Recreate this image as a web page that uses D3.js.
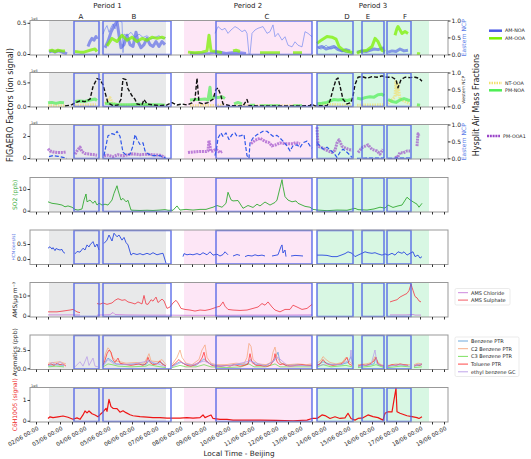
<!DOCTYPE html>
<html><head><meta charset="utf-8">
<script src="https://cdn.jsdelivr.net/npm/d3@7"></script>
<style>body{margin:0;background:#fff}text{font-family:"DejaVu Sans",sans-serif}</style>
</head><body><svg id="c" width="531" height="459"></svg>
<script>
// time unit: hours since 02/06 00:00 (local time, Beijing)
const dayLabels = ["02/06 00:00","03/06 00:00","04/06 00:00","05/06 00:00","06/06 00:00","07/06 00:00","08/06 00:00","09/06 00:00","10/06 00:00","11/06 00:00","12/06 00:00","13/06 00:00","14/06 00:00","15/06 00:00","16/06 00:00","17/06 00:00","18/06 00:00","19/06 00:00"];
const periods = [{name:"Period 1", t0:13, t1:130, color:"#e8e9ea"},{name:"Period 2", t0:148, t1:276, color:"#fde6f6"},{name:"Period 3", t0:281, t1:393, color:"#d8f7e3"}];
const boxes = [{name:"A",t0:38,t1:63,lt:45},{name:"B",t0:67,t1:135,lt:98},{name:"C",t0:180,t1:276,lt:231},{name:"D",t0:281,t1:317,lt:311},{name:"E",t0:326,t1:348,lt:332},{name:"F",t0:351,t1:375,lt:369}];

// Panel 1
const amNOA = [[13,0.03],[16,0.05],[19,0.03],[22,0.05],[25,0.04],[28,0.02],[31,0.0],null,[52,0.12],[54,0.2],[56,0.25],[58,0.22],[60,0.28],[61,0.24],null,[69,0.1],[72,0.2],[75,0.35],[78,0.45],[81,0.52],[83,0.3],[85,0.1],[88,0.15],[91,0.3],[94,0.15],[97,0.12],[100,0.35],[102,0.2],[105,0.1],[108,0.15],[111,0.25],[114,0.15],[117,0.12],[120,0.2],[123,0.12],[126,0.2],[129,0.15],null,[154,0.01],[164,0.0],[174,0.01],[178,0.02],[184,0.03],[190,0.01],[196,0.02],[204,0.02],[210,0.01],null,[282,0.1],[286,0.12],[290,0.08],[294,0.1],[298,0.12],[302,0.07],[306,0.05],[310,0.07],[314,0.05],null,[321,0.03],[326,0.05],[330,0.04],[334,0.06],[338,0.08],[342,0.07],[346,0.09],[348,0.1],null,[352,0.03],[356,0.05],[360,0.04],[364,0.08],[368,0.05],[372,0.06]];
const amOOA = [[13,0.05],[16,0.06],[19,0.04],[22,0.06],[26,0.05],[29,0.05],null,[39,0.04],[44,0.03],[48,0.03],[52,0.05],[56,0.07],[59,0.08],[61,0.04],null,[71,0.13],[76,0.25],[81,0.2],[86,0.3],[91,0.22],[96,0.27],[101,0.2],[106,0.25],[111,0.22],[116,0.27],[121,0.25],[126,0.27],[129,0.25],null,[152,0.03],[159,0.02],[166,0.03],[171,0.05],[173,0.3],[175,0.05],[180,0.04],[186,0.02],null,[197,0.05],[200,0.06],[204,0.04],null,[224,0.02],[244,0.02],null,[257,0.02],[266,0.02],null,[281,0.17],[286,0.23],[291,0.28],[296,0.27],[300,0.24],[303,0.12],[307,0.065],[312,0.04],[317,0.02],null,[321,0.01],[324,0.04],[331,0.06],[336,0.12],[339,0.25],[342,0.2],[346,0.06],[349,0.04],null,[359,0.3],[361,0.41],[362,0.44],[366,0.33],[369,0.36],[372,0.33],null,[381,0.01],[384,0.0]];
const eastNCP1 = [[67,0.6],[69,0.75],[71,0.85],[73,0.65],[75,0.8],[77,0.9],[79,0.75],[81,0.95],[83,1.0],[86,0.95],[87,0.05],[88,0.6],[91,0.55],[95,0.65],[99,0.5],[103,0.6],[107,0.5],[111,0.55],[115,0.45],[119,0.5],[123,0.55],[127,0.45],[130,0.5],null,[179,0.62],[182,0.82],[186,0.72],[189,0.77],[192,0.62],[195,0.72],[199,0.82],[202,0.77],[206,0.67],[209,0.72],[211,0.62],[213,0.0],[214,0.0],[216,0.62],[219,0.72],[222,0.77],[227,0.82],[231,0.62],[234,0.67],[237,0.87],[239,0.52],[242,0.62],[246,0.42],[249,0.52],[252,0.27],[256,0.22],[259,0.37],[262,0.27],[266,0.22],[269,0.67],[272,0.62],[276,0.52],null,[281,0.22],[285,0.15],[290,0.27],[295,0.15],[300,0.22],[305,0.1],[310,0.05],[315,0.06]];

// Panel 2
const westNCP = [[29,0.01],[33,0.03],[36,0.05],[39,0.1],[44,0.16],[49,0.14],[54,0.21],[57,0.58],[61,0.82],[64,0.79],[67,0.64],[70,0.31],[72,0.1],[77,0.02],[82,0.04],[85,0.21],[87,0.82],[90,0.79],[92,0.52],[96,0.31],[99,0.21],[101,0.07],[106,0.04],[108,0.2],[111,0.07],[117,0.04],[124,0.02],[131,0.04],[136,0.11],[141,0.04],[146,0.07],[151,0.04],[156,0.1],[159,0.21],[161,0.83],[163,0.11],[167,0.07],[172,0.11],[177,0.21],[180,0.5],[182,0.54],[185,0.31],[187,0.07],[194,0.02],[207,0.01],[211,0.2],[213,0.02],[224,0.01],[244,0.01],[264,0.01],[274,0.02],[276,0.07],[279,0.01],[286,0.02],[291,0.02],[294,0.16],[297,0.5],[300,0.79],[302,0.84],[304,0.6],[307,0.21],[311,0.07],[315,0.11],[317,0.31],[319,0.64],[322,0.86],[326,0.88],[331,0.83],[336,0.88],[341,0.86],[346,0.9],[351,0.86],[356,0.86],[360,0.79],[362,0.55],[365,0.79],[369,0.86],[374,0.85],[379,0.86],[383,0.83],[386,0.74]];
const pmNOA = [[12,0.07],[16,0.08],[20,0.06],[24,0.08],[28,0.07],null,[39,0.1],[44,0.11],[49,0.1],[54,0.13],[59,0.15],[61,0.12],null,[69,0.06],[74,0.05],[79,0.04],[84,0.03],[94,0.03],[104,0.04],[114,0.03],[124,0.03],[129,0.02],null,[154,0.13],[159,0.14],[164,0.14],[169,0.15],[172,0.13],[174,0.4],[175,0.15],[179,0.2],[182,0.18],[186,0.2],[189,0.16],null,[198,0.05],[202,0.08],[206,0.05],null,[214,0.02],[219,0.02],null,[224,0.01],[244,0.01],null,[257,0.01],[266,0.01],null,[281,0.05],[286,0.06],[291,0.08],[295,0.12],[298,0.14],[302,0.13],[306,0.14],[311,0.12],[315,0.14],null,[321,0.17],[325,0.15],[329,0.18],[334,0.2],[338,0.19],[342,0.24],[346,0.25],[348,0.22],null,[352,0.14],[356,0.1],[360,0.08],[364,0.13],[368,0.16],[372,0.13],[374,0.12],null,[381,0.03],[384,0.02]];
const ntOOA = [[12,0.01],[29,0.01],null,[39,0.02],[60,0.03],null,[69,0.05],[72,0.12],[74,0.18],[76,0.08],[80,0.03],[90,0.02],[110,0.02],[129,0.01],null,[154,0.01],[189,0.02],null,[198,0.01],[266,0.01],null,[281,0.03],[290,0.05],[300,0.03],[315,0.02],null,[321,0.02],[348,0.03],null,[352,0.05],[359,0.2],[360,0.52],[361,0.25],[362,0.45],[364,0.15],[374,0.05],null,[381,0.02],[384,0.01]];

// Panel 3
const pmOOA1 = [[12,0.84],[14,0.64],[17,0.55],[22,0.5],[27,0.5],[30,0.55],null,[39,0.35],[41,0.64],[44,1.0],[46,0.58],[49,0.4],[54,0.35],[61,0.26],null,[68,0.2],[72,0.26],[77,0.12],[82,0.3],[87,0.2],[92,0.3],[97,0.38],[104,0.3],[111,0.35],[117,0.3],[124,0.25],[129,0.06],null,[152,0.5],[157,0.55],[164,0.6],[170,0.58],[172,0.65],[173,1.6],[175,0.6],[177,0.64],[180,0.8],[184,0.5],[186,0.6],null,[215,1.3],[219,1.6],[224,1.8],[229,1.5],[233,1.4],[236,1.1],[240,1.2],[244,1.37],[250,1.3],[257,1.3],[260,1.4],[264,1.3],null,[281,2.8],[282,1.07],[286,0.93],[289,0.78],[292,0.64],[296,0.5],[299,0.7],[301,1.37],[303,1.65],[306,1.07],[309,0.93],[312,0.8],[316,0.7],null,[322,0.5],[326,0.93],[329,1.07],[332,1.2],[336,0.78],[341,0.64],[344,0.35],[347,0.78],null,[360,0.2],[361,-0.09],[364,0.5],[367,0.45],[371,0.64],[374,0.64],null,[381,1.07],[382,2.2],[383,2.0]];
const eastNCP3 = [[13,0.05],[17,0.08],[22,0.06],[27,0.03],[31,0.0],null,[68,0.08],[70,0.37],[72,0.67],[76,0.73],[79,0.7],[81,0.8],[84,0.65],[87,0.18],[90,0.1],[94,0.12],[97,0.37],[99,0.7],[101,0.56],[104,0.41],[107,0.46],[109,0.22],[112,0.13],[117,0.08],[124,0.08],[130,0.0],null,[179,0.08],[181,0.37],[182,0.6],[185,0.75],[187,0.65],[190,0.75],[193,0.56],[196,0.7],[199,0.75],[201,0.65],[205,0.67],[208,0.7],[211,0.08],[213,0.0],[214,0.46],[217,0.6],[221,0.7],[224,0.75],[227,0.8],[231,0.8],[234,0.72],[237,0.65],[241,0.68],[244,0.6],[247,0.51],[251,0.37],[254,0.22],[257,0.37],[261,0.4],[264,0.32],[267,0.46],[271,0.51],[274,0.37],[276,0.3],null,[281,0.46],[284,0.37],[287,0.27],[291,0.33],[294,0.25],[297,0.18],[301,0.03],[304,0.18],[307,0.27],[311,0.18],[316,0.03],null,[321,0.0],[348,0.01],null,[352,0.0],[375,0.01]];

// Panel 4
const so2 = [[12,4.1],[16,3.4],[21,3.1],[26,2.6],[29,1.8],[32,2.2],[36,1.6],[39,0.6],[42,0.3],[46,0.8],[48,4.9],[50,7.7],[51,4.1],[54,4.9],[57,3.4],[59,4.5],[61,2.6],[63,3.5],[66,2.6],[69,3.0],[72,2.6],[76,4.9],[78,8.0],[81,11.5],[82,9.5],[85,4.9],[87,5.7],[90,4.1],[92,4.8],[95,0.3],[97,0.2],[104,0.1],[111,0.2],[117,0.1],[124,0.3],[129,0.5],[132,0.2],[137,0.2],[141,2.2],[144,0.3],[150,0.6],[157,0.3],[164,0.6],[170,0.6],[174,1.2],[177,1.6],[181,2.4],[186,1.6],[190,3.4],[192,8.5],[195,5.0],[197,4.5],[202,4.7],[207,1.1],[212,2.4],[217,1.5],[221,3.0],[224,2.2],[229,4.0],[234,2.6],[239,3.8],[241,4.9],[246,14.3],[247,11.1],[249,6.5],[252,4.9],[256,4.1],[260,4.5],[262,3.4],[266,2.6],[269,2.0],[274,1.6],[277,0.6],[282,0.3],[291,0.0],[301,0.3],[311,0.2],[319,1.1],[322,0.5],[331,0.3],[338,0.8],[344,1.6],[349,1.2],[352,2.6],[357,1.5],[362,2.2],[366,2.6],[371,6.2],[374,5.0],[377,4.1],[381,3.0],[383,1.6],[386,3.4]];
// Panel 5
const hcn = [[12,0.36],[14,0.41],[16,0.33],[17,0.38],[19,0.28],[20,0.35],[22,0.32],[24,0.3],[26,0.32],[27,0.24],[29,0.19],null,[39,0.17],[41,0.25],[44,0.23],[47,0.36],[49,0.3],[51,0.47],[53,0.4],[54,0.47],[57,0.58],[59,0.4],[61,0.5],[63,0.3],null,[68,0.52],[71,0.63],[73,0.8],[76,0.6],[78,0.86],[81,0.74],[83,0.8],[86,0.63],[88,0.72],[90,0.55],[92,0.47],[95,0.13],[97,0.19],[101,0.15],[104,0.18],[107,0.14],[111,0.19],[114,0.15],[117,0.21],[121,0.14],[124,0.17],[127,0.19],[130,-0.14],null,[147,0.08],[148,0.18],[151,0.14],[154,0.16],[157,0.14],[161,0.18],[164,0.14],[167,0.21],[171,0.14],[174,0.24],[177,0.13],[181,0.16],[184,0.1],[187,0.15],[189,0.24],[192,0.14],null,[197,0.1],[201,0.15],[204,0.12],null,[209,0.08],[212,0.12],[216,0.1],[219,0.14],[222,0.11],[226,0.13],[229,0.1],null,[236,0.1],[239,0.12],[242,0.14],[245,0.41],[246,0.47],[247,0.2],[249,0.3],[250,0.08],null,[255,0.1],[259,0.12],[264,0.11],[267,0.1],null,[281,0.13],[286,0.13],[291,0.12],[296,0.08],[301,0.08],[306,0.14],[309,0.18],[312,0.24],[316,0.19],[319,0.08],[322,0.13],[326,0.19],[329,0.24],[332,0.21],[336,0.19],[339,0.21],[342,0.17],[346,0.13],[349,0.17],[352,0.13],[356,0.19],[359,0.13],[362,0.24],[366,0.19],[368,0.24],[371,0.13],[374,0.19],[377,0.24],[379,0.08],[382,0.13],[384,0.03],[386,0.08]];
// Panel 6
const amsSulphate = [[12,1.9],[21,1.9],[27,2.3],[34,2.8],[37,3.1],[39,2.5],[41,1.9],[44,1.5],null,[61,6.0],[64,5.7],[67,6.3],[71,5.6],[76,6.3],[79,7.6],[82,8.4],[86,7.6],[89,7.9],[92,6.8],[96,6.3],[99,5.8],[102,6.8],[106,5.8],[108,10.0],[110,5.8],[112,5.6],[115,7.9],[117,7.2],[120,9.2],[122,6.5],[126,8.2],[128,7.3],[131,3.6],[134,4.3],[137,6.3],[140,7.6],[142,6.3],[145,3.6],[149,3.1],[154,2.8],[159,2.3],[164,2.8],[169,2.6],[174,3.1],[177,3.6],[181,4.3],[184,4.7],[187,6.8],[189,4.7],[192,3.1],[197,2.8],[204,2.6],[211,2.8],[217,3.6],[222,4.3],[226,6.0],[229,5.2],[232,6.8],[236,4.3],[239,2.8],[244,1.9],[249,3.1],[254,3.1],[257,5.2],[261,4.3],[266,3.1],[271,3.6],[276,5.6],null,[354,6.8],[357,7.3],[361,7.9],[364,9.2],[367,10.0],[371,11.0],[373,12.4],[375,15.6],[376,14.0],[377,12.5],[379,9.5],[381,8.8],[383,7.3],[385,6.8]];
const amsChloride = [[12,0.4],[44,0.4],null,[61,0.3],[74,0.5],[77,1.6],[79,0.6],[90,0.4],[110,0.3],[130,0.3],[150,0.2],[180,0.2],[210,0.3],[240,0.3],[276,0.4],null,[354,0.4],[370,0.4],[377,0.6],[379,0.3],[385,0.3]];
// Panel 7
const toluene = [[12,0.5],[15,0.6],[18,0.4],[21,0.7],[24,0.5],[27,0.6],[30,0.3],null,[67,0.5],[69,1.1],[71,2.0],[73,2.5],[75,2.2],[77,1.2],[79,0.8],[82,1.4],[84,0.7],[87,0.6],[91,0.5],[95,0.4],[99,0.5],[103,0.6],[107,0.4],[110,0.7],[112,1.5],[114,0.8],[117,0.5],[121,0.6],[124,1.0],[126,0.6],[130,0.3],null,[136,0.3],[140,0.8],[143,1.2],[145,0.9],[148,0.6],[151,0.4],[155,0.3],[159,0.5],[163,0.8],[166,1.4],[168,2.2],[170,1.0],[173,0.7],[176,0.4],[180,0.3],[185,0.3],[190,0.4],[194,0.3],[198,0.5],[201,0.4],[204,0.3],[208,0.4],[212,0.6],[214,2.0],[216,0.8],[220,0.4],[224,0.4],[228,0.3],[232,0.3],[235,0.5],[238,1.3],[239,2.0],[241,0.9],[244,0.5],[247,0.6],[250,0.4],[254,0.3],[260,0.4],[266,0.5],[270,0.4],[276,0.4],null,[281,0.4],[284,0.6],[287,1.2],[290,0.7],[293,0.5],[297,0.4],[301,0.5],[305,0.6],[308,0.9],[311,1.5],[313,0.6],[316,0.4],null,[322,0.3],[326,0.5],[330,0.4],[334,0.6],[338,1.0],[340,1.5],[342,0.6],[345,0.4],[348,0.3],null,[352,0.3],[356,0.5],[360,0.4],[364,0.6],[368,0.5],[372,0.4],null,[378,0.3],[381,0.5],[384,0.4],[386,0.6]];
const c2Benzene = [[12,0.7],[18,0.8],[24,0.9],[30,0.6],null,[67,0.8],[70,2.2],[72,2.8],[74,2.5],[76,1.6],[80,1.0],[84,0.9],[90,0.7],[100,0.8],[108,0.7],[111,1.4],[113,2.0],[115,1.0],[122,0.9],[126,1.2],[130,0.5],null,[136,0.5],[141,1.5],[144,2.5],[146,1.5],[150,0.7],[156,0.5],[163,1.2],[166,2.5],[169,3.2],[171,1.5],[175,0.7],[180,0.5],[190,0.5],[200,0.7],[208,0.6],[211,1.5],[213,3.4],[215,3.0],[217,1.2],[222,0.6],[230,0.5],[235,0.8],[237,2.2],[239,2.9],[241,1.5],[245,0.7],[252,0.5],[262,0.6],[270,0.5],[276,0.6],null,[281,0.7],[285,1.1],[287,1.6],[290,1.2],[294,0.8],[300,0.6],[306,0.8],[310,1.5],[313,1.0],[316,0.6],null,[322,0.5],[330,0.6],[336,0.8],[339,1.6],[341,1.0],[345,0.5],[348,0.4],null,[352,0.4],[360,0.6],[368,0.5],[374,0.5],null,[378,0.5],[382,0.7],[386,0.6]];
const benzene = [[12,0.4],[20,0.5],[28,0.4],null,[67,0.4],[72,1.4],[76,1.0],[80,0.6],[90,0.5],[100,0.6],[110,0.5],[113,1.1],[118,0.6],[125,0.8],[130,0.3],null,[136,0.3],[144,0.9],[150,0.5],[160,0.4],[168,1.3],[175,0.5],[185,0.3],[200,0.5],[212,0.6],[214,1.2],[220,0.5],[230,0.4],[238,1.0],[242,2.2],[244,0.8],[250,0.4],[260,0.5],[270,0.4],[276,0.4],null,[281,0.4],[287,0.9],[295,0.5],[305,0.5],[312,0.8],[315,1.6],[317,0.5],null,[322,0.3],[330,0.4],[338,0.6],[340,1.5],[342,0.5],[348,0.3],null,[352,0.3],[362,0.5],[372,0.4],null,[378,0.3],[386,0.5]];
const c3Benzene = [[12,0.2],[20,0.3],[28,0.2],null,[67,0.2],[72,0.6],[76,0.5],[82,0.3],[95,0.2],[110,0.3],[113,0.5],[120,0.3],[130,0.1],null,[136,0.1],[144,0.4],[150,0.2],[160,0.2],[168,0.5],[175,0.2],[190,0.1],[205,0.2],[213,0.6],[218,0.2],[230,0.2],[239,0.6],[244,0.2],[260,0.2],[276,0.2],null,[281,0.2],[287,0.5],[295,0.2],[310,0.4],[316,0.2],null,[322,0.1],[335,0.3],[340,0.5],[348,0.1],null,[352,0.1],[365,0.3],[374,0.2],null,[378,0.1],[386,0.2]];
const ethylBenzeneGC = [[12,0.3],[16,0.8],[20,0.5],[24,0.9],[28,0.4],null,[39,0.2],[44,0.9],[47,0.3],[51,1.6],[53,0.4],[57,1.4],[59,0.3],[62,0.2],null,[67,0.3],[72,1.2],[78,0.6],[86,0.5],[98,0.6],[112,1.0],[124,0.5],[130,0.2],null,[136,0.2],[145,0.8],[155,0.4],[168,1.0],[180,0.3],[195,0.4],[214,1.0],[230,0.3],[242,1.5],[252,0.3],[265,0.4],[276,0.3],null,[281,0.3],[290,0.6],[305,0.5],[314,1.2],[315,2.5],[316,0.6],null,[322,0.3],[335,0.5],[339,2.5],[341,0.6],[348,0.3],null,[352,0.3],[365,0.5],[374,0.3],null,[378,0.4],[386,0.6]];
// Panel 8
const c6h10o5 = [[12,0.11],[14,0.19],[17,0.15],[22,0.19],[27,0.23],[32,0.17],[37,0.07],[41,0.14],[44,0.07],[47,0.28],[49,0.47],[51,0.38],[53,0.47],[56,0.34],[59,0.28],[62,0.19],[65,0.34],[67,0.43],[70,0.6],[71,0.45],[73,1.03],[75,0.68],[77,0.6],[81,0.58],[84,0.41],[87,0.48],[90,0.39],[94,0.29],[97,0.24],[104,0.2],[111,0.17],[117,0.15],[124,0.15],[131,0.13],[138,0.13],[144,0.13],[151,0.15],[157,0.13],[164,0.15],[167,0.28],[169,0.15],[172,0.22],[175,0.28],[177,0.11],[184,0.07],[191,0.07],[197,0.03],[211,0.03],[224,0.03],[240,0.02],[257,0.0],[271,0.03],[276,0.11],[281,0.11],[286,0.28],[289,0.25],[294,0.11],[299,0.19],[304,0.11],[309,0.14],[312,0.36],[315,0.11],[319,0.03],[322,0.11],[327,0.14],[332,0.28],[337,0.2],[342,0.15],[347,0.03],[349,0.36],[352,0.43],[356,0.43],[358,1.0],[360,1.56],[361,0.43],[364,0.36],[371,0.24],[376,0.2],[381,0.15],[383,0.11],[386,0.19]];

const svg = d3.select("#c");
const X0 = 30, X1 = 448;
const x = d3.scaleLinear().domain([-6, 412]).range([X0, X1]);
const H = 34.5;
const panels = [
 {top:20.5, dom:[-0.016,0.537], ticks:[0,0.5], fmt:".1f", right:true, offset:true},
 {top:72.5, dom:[-0.017,0.708], ticks:[0,0.5], fmt:".1f", right:true, offset:true},
 {top:124.5, dom:[-0.09,3.04], ticks:[0,2], fmt:"d", right:true, offset:true},
 {top:177.5, dom:[-0.6,15.3], ticks:[0,10], fmt:"d", label:"SO2 (ppb)", lc:"#33aa33", lfs:6},
 {top:230, dom:[-0.183,0.967], ticks:[0,0.5], fmt:".1f", label:"HCN (ions/s)", lc:"#3355dd", lfs:4.3},
 {top:282.5, dom:[-0.64,16.4], ticks:[0,10], fmt:"d", label:"AMS/\u00b5g m\u207b\u00b3", lc:"#222", lfs:6},
 {top:335, dom:[-0.16,4.55], ticks:[0,2.5], fmt:".1f", label:"Aromatics (ppb)", lc:"#222", lfs:6},
 {top:387.5, dom:[-0.06,1.6], ticks:[0,1], fmt:"d", label:"C6H10O5 (signal)", lc:"#ee2222", lfs:6, offset:true}
];
const defs = svg.append("defs");

panels.forEach((p,i)=>{
  p.y = d3.scaleLinear().domain(p.dom).range([p.top+H, p.top]);
  p.yr = d3.scaleLinear().domain([-0.02,1.0]).range([p.top+H, p.top]);
  defs.append("clipPath").attr("id","cl"+i).append("rect").attr("x",X0).attr("y",p.top).attr("width",X1-X0).attr("height",H);
  const g = svg.append("g");
  p.g = g;
  periods.forEach(s=>{
    g.append("rect").attr("x",x(s.t0)).attr("y",p.top).attr("width",x(s.t1)-x(s.t0)).attr("height",H).attr("fill",s.color);
  });
  p.lines = g.append("g").attr("clip-path",`url(#cl${i})`);
});

function line(p, data, scale, st){
  const gen = d3.line().defined(d=>d!==null).x(d=>x(d[0])).y(d=>scale(d[1]));
  const path = p.lines.append("path").datum(data).attr("d",gen).attr("fill","none")
    .attr("stroke",st.c).attr("stroke-width",st.w||1).attr("stroke-opacity",st.o||1)
    .attr("stroke-linejoin","round");
  if(st.dash) path.attr("stroke-dasharray",st.dash);
}
const P = panels;
line(P[0], eastNCP1, P[0].yr, {c:"#7088f0", w:0.8, o:0.85});
line(P[0], amNOA, P[0].y, {c:"#4a58e6", w:3, o:0.6});
line(P[0], amOOA, P[0].y, {c:"#7cf000", w:3, o:0.75});
line(P[1], ntOOA, P[1].y, {c:"#f2e070", w:3, o:0.7, dash:"1.5,1"});
line(P[1], pmNOA, P[1].y, {c:"#4eee55", w:3, o:0.7});
line(P[1], westNCP, P[1].yr, {c:"#111", w:1.4, dash:"4,2"});
line(P[2], pmOOA1, P[2].y, {c:"#9a45c8", w:3, o:0.65, dash:"2,0.8"});
line(P[2], eastNCP3, P[2].yr, {c:"#3058ea", w:1.2, dash:"4,2"});
line(P[3], so2, P[3].y, {c:"#33aa33", w:0.9});
line(P[4], hcn, P[4].y, {c:"#2a4ae0", w:0.9});
line(P[5], amsChloride, P[5].y, {c:"#c77ada", w:0.9, o:0.9});
line(P[5], amsSulphate, P[5].y, {c:"#f04a55", w:0.9});
line(P[6], benzene, P[6].y, {c:"#5f9fd8", w:0.9, o:0.85});
line(P[6], c2Benzene, P[6].y, {c:"#f6a57c", w:0.9, o:0.85});
line(P[6], c3Benzene, P[6].y, {c:"#6fdc50", w:0.9, o:0.85});
line(P[6], toluene, P[6].y, {c:"#ff3333", w:0.9, o:0.85});
line(P[6], ethylBenzeneGC, P[6].y, {c:"#b89be8", w:0.9, o:0.85});
line(P[7], c6h10o5, P[7].y, {c:"#ee1515", w:1.2});

const hourTicks = d3.range(0, 409, 12);
panels.forEach((p,i)=>{
  const g = p.g;
  boxes.forEach(b=>{
    g.append("rect").attr("x",x(b.t0)).attr("y",p.top+0.5).attr("width",x(b.t1)-x(b.t0)).attr("height",H-1)
      .attr("fill","none").attr("stroke","#4c5fe6").attr("stroke-width",1.5).attr("stroke-opacity",0.85);
  });
  g.append("rect").attr("x",X0).attr("y",p.top).attr("width",X1-X0).attr("height",H).attr("fill","none").attr("stroke","#999").attr("stroke-width",1);
  const ax = g.append("g").attr("transform",`translate(0,${p.top+H})`)
    .call(d3.axisBottom(x).tickValues(hourTicks).tickSize(2.5).tickFormat(""));
  ax.select(".domain").remove();
  ax.selectAll("line").attr("stroke","#333");
  const ay = g.append("g").attr("transform",`translate(${X0},0)`)
    .call(d3.axisLeft(p.y).tickValues(p.ticks).tickSize(2.5).tickFormat(d3.format(p.fmt)));
  ay.select(".domain").remove();
  ay.selectAll("line").attr("stroke","#333");
  ay.selectAll("text").attr("font-size",6).attr("fill","#222").attr("font-family","DejaVu Sans").attr("x",-3.5);
  if(p.right){
    const ar = g.append("g").attr("transform",`translate(${X1},0)`)
      .call(d3.axisRight(p.yr).tickValues([0,0.5,1.0]).tickSize(2.5).tickFormat(d3.format(".1f")));
    ar.select(".domain").remove();
    ar.selectAll("line").attr("stroke","#333");
    ar.selectAll("text").attr("font-size",6).attr("fill","#222").attr("font-family","DejaVu Sans").attr("x",3.5);
  }
  if(p.offset){
    g.append("text").attr("x",X0+1).attr("y",p.top-1).attr("font-size",3.5).attr("fill","#444").text("1e6");
  }
  if(p.label){
    g.append("text").attr("transform",`translate(${p.lfs<5?15:17},${p.top+H/2}) rotate(-90)`).attr("text-anchor","middle")
      .attr("font-size",p.lfs).attr("fill",p.lc).text(p.label);
  }
});

const last = P[7];
dayLabels.forEach((lab,i)=>{
  const tx = x(i*24), ty = last.top+H+4;
  svg.append("text").attr("transform",`translate(${tx+1},${ty}) rotate(-30)`).attr("text-anchor","end")
    .attr("dominant-baseline","hanging").attr("font-size",5.6).attr("fill","#222").text(lab);
});
svg.append("text").attr("x",x(203)).attr("y",455.5).attr("text-anchor","middle").attr("font-size",7.3).attr("fill","#222").text("Local Time - Beijing");

periods.forEach(s=>{
  svg.append("text").attr("x",x((s.t0+s.t1)/2)).attr("y",7.5).attr("text-anchor","middle").attr("font-size",7).attr("fill","#222").text(s.name);
});
boxes.forEach(b=>{
  svg.append("text").attr("x",x(b.lt)).attr("y",18.5).attr("text-anchor","middle").attr("font-size",7).attr("fill","#222").text(b.name);
});

svg.append("text").attr("transform",`translate(13,105) rotate(-90)`).attr("text-anchor","middle").attr("font-size",8).attr("fill","#222").text("FIGAERO Factors (ion signal)");
svg.append("text").attr("transform",`translate(478.5,105) rotate(-90)`).attr("text-anchor","middle").attr("font-size",8).attr("fill","#222").text("Hysplit Air Mass Fractions");
svg.append("text").attr("transform",`translate(466,${P[0].top+H/2}) rotate(-90)`).attr("text-anchor","middle").attr("font-size",6).attr("fill","#5b7be8").text("Eastern NCP");
svg.append("text").attr("transform",`translate(465,${P[1].top+H/2}) rotate(-90)`).attr("text-anchor","middle").attr("font-size",4.3).attr("fill","#222").text("Western NCP");
svg.append("text").attr("transform",`translate(466,${P[2].top+H/2}) rotate(-90)`).attr("text-anchor","middle").attr("font-size",6).attr("fill","#5b7be8").text("Eastern NCP");

function legend(x0, y0, items, opts){
  const g = svg.append("g");
  if(opts.box){
    g.append("rect").attr("x",opts.box[0]).attr("y",opts.box[1]).attr("width",opts.box[2]).attr("height",opts.box[3])
      .attr("fill","#fff").attr("stroke","#ddd").attr("stroke-width",0.6).attr("rx",1.5);
  }
  items.forEach((it,i)=>{
    const yy = y0 + i*opts.dy;
    const l = g.append("line").attr("x1",x0).attr("x2",x0+opts.len).attr("y1",yy).attr("y2",yy)
      .attr("stroke",it.c).attr("stroke-width",it.w).attr("stroke-opacity",it.o||1);
    if(it.dash) l.attr("stroke-dasharray",it.dash);
    g.append("text").attr("x",x0+opts.len+3).attr("y",yy).attr("dominant-baseline","central").attr("font-size",opts.fs||5).attr("fill","#222").text(it.name);
  });
}
legend(489, 30.7, [{name:"AM-NOA",c:"#4a58e6",w:2.5},{name:"AM-OOA",c:"#7cf000",w:2.5}], {dy:7.6,len:13,fs:4.8});
legend(489, 83, [{name:"NT-OOA",c:"#f2e070",w:2.5,dash:"1.5,1"},{name:"PM-NOA",c:"#4eee55",w:2.5}], {dy:7.3,len:13,fs:4.8});
legend(487, 136, [{name:"PM-OOA1",c:"#9a45c8",w:2.5,dash:"2,0.8"}], {dy:7,len:13,fs:4.8});
legend(458, 292.7, [{name:"AMS Chloride",c:"#c77ada",w:0.9},{name:"AMS Sulphate",c:"#f04a55",w:0.9}], {dy:7.4,len:10,box:[455,288.5,55,16.5]});
legend(458, 341, [{name:"Benzene PTR",c:"#5f9fd8",w:0.9},{name:"C2 Benzene PTR",c:"#f6a57c",w:0.9},{name:"C3 Benzene PTR",c:"#6fdc50",w:0.9},{name:"Toluene PTR",c:"#ff3333",w:0.9},{name:"ethyl benzene GC",c:"#b89be8",w:0.9}], {dy:7.7,len:10,box:[455,337,64,39.5]});
</script></body></html>
